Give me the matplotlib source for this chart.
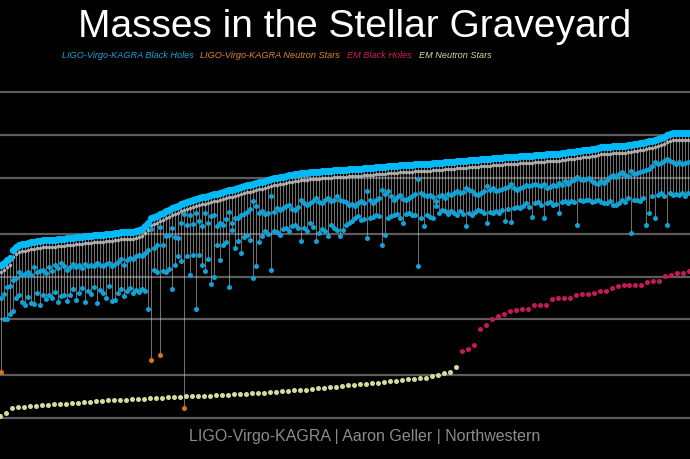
import matplotlib
matplotlib.use('Agg')
import matplotlib.pyplot as plt
import matplotlib.transforms as mtransforms
import numpy as np

# ---------------- data (solar masses) ----------------
lvk_final = [
    12.0, 12.5, 13.0, 13.6, 15.5, 16.2, 16.6, 16.9, 17.1, 17.3,
    17.5, 17.6, 17.7, 17.9, 18.0, 18.0, 18.1, 18.2, 18.2, 18.3,
    18.4, 18.5, 18.6, 18.7, 18.8, 18.9, 19.0, 19.1, 19.2, 19.3,
    19.4, 19.5, 19.6, 19.7, 19.8, 19.9, 20.0, 20.1, 20.2, 20.4,
    20.5, 20.6, 20.7, 20.7, 20.8, 20.9, 21.2, 21.8, 22.6, 23.8,
    25.8, 26.2, 26.9, 27.6, 28.3, 29.0, 29.6, 30.3, 31.0, 31.7,
    32.4, 33.1, 33.7, 34.3, 34.8, 35.3, 35.8, 36.3, 36.7, 37.2,
    37.6, 38.0, 38.5, 39.0, 39.4, 40.0, 40.6, 41.2, 41.8, 42.4,
    42.9, 43.5, 44.1, 44.6, 45.2, 45.8, 46.3, 46.9, 47.5, 48.1,
    48.7, 49.3, 49.8, 50.3, 50.8, 51.4, 51.9, 52.4, 52.9, 53.4,
    53.7, 54.0, 54.2, 54.5, 54.7, 54.9, 55.1, 55.3, 55.5, 55.8,
    56.0, 56.2, 56.4, 56.6, 56.8, 56.9, 57.1, 57.3, 57.5, 57.7,
    57.9, 58.1, 58.4, 58.6, 58.9, 59.1, 59.4, 59.6, 59.9, 60.1,
    60.4, 60.6, 60.9, 61.1, 61.3, 61.5, 61.6, 61.8, 62.0, 62.2,
    62.4, 62.5, 62.7, 62.9, 63.1, 63.4, 63.6, 63.9, 64.1, 64.4,
    64.6, 64.9, 65.1, 65.4, 65.7, 66.0, 66.3, 66.6, 66.8, 67.1,
    67.3, 67.6, 67.9, 68.1, 68.4, 68.6, 68.9, 69.1, 69.4, 69.6,
    69.9, 70.1, 70.4, 70.6, 70.9, 71.1, 71.4, 71.6, 71.9, 72.2,
    72.4, 72.7, 73.0, 73.2, 73.5, 73.8, 74.0, 74.5, 75.0, 75.5,
    75.9, 76.4, 76.9, 77.4, 77.9, 78.4, 78.9, 79.3, 80.3, 81.2,
    81.7, 82.1, 82.4, 82.7, 83.0, 83.3, 83.6, 84.0, 84.3, 84.9,
    85.6, 86.3, 87.0, 87.7, 88.5, 89.4, 90.4, 91.4, 92.5, 93.6,
    95.0, 97.5, 100.0, 102.5, 103.0, 103.3, 103.6, 103.8, 104.0, 104.2,
]

lvk_m1 = [
    7.1, 7.5, 8.4, 8.6, 9.5, 9.7, 10.7, 10.2, 10.5, 10.7, 10.3, 11.6, 10.7, 11.0,
    11.2, 10.6, 11.6, 11.0, 12.0, 11.4, 12.4, 11.9, 11.2, 11.6,
    12.2, 11.7, 12.1, 11.5, 12.3, 11.9, 12.1, 11.8, 12.4, 12.0,
    11.8, 12.2, 12.5, 11.9, 12.2, 12.6, 13.4, 12.0, 13.0, 13.6,
    13.3, 13.9, 14.1,
    14.0, 14.6, 15.5, 21.5, 15.9, 16.7, 22.5, 16.8, 19.4, 19.6,
    22.0, 19.0, 18.7, 24.0, 27.5, 23.1, 27.0, 23.5, 28.0, 24.5,
    22.7, 28.0, 24.0, 26.7, 27.0, 22.7, 23.8, 23.1, 25.5, 28.5, 23.8, 26.0, 25.8, 27.1,
    27.5, 28.5, 30.0, 34.0, 31.4, 28.0, 29.0, 27.5, 28.0, 36.9,
    28.5, 30.5, 29.4, 30.5, 31.4, 32.0, 30.0, 29.4, 31.0, 34.6,
    33.0, 32.0, 32.9, 34.0, 35.7, 33.5, 32.9, 35.0, 35.7, 34.0,
    35.0, 36.9,
    35.0, 34.0, 33.5, 31.9, 32.5, 31.4, 33.0, 34.0, 33.0, 40.0,
    35.0, 32.9, 34.5, 36.0, 40.6, 38.0, 40.0, 37.0, 34.6, 36.5,
    37.4, 35.5, 34.6, 36.0, 37.0, 38.0, 49.2, 38.7, 37.5, 36.9, 37.4,
    36.5, 34.0, 37.0, 37.4, 36.0, 38.0, 37.4, 38.7, 40.0, 38.7,
    39.5, 41.9, 41.0, 40.0, 38.5, 37.4, 39.0, 40.0, 43.3, 41.0,
    42.0, 40.0, 40.6, 41.5, 42.5, 43.0, 45.4, 42.0, 40.6, 42.5,
    43.0, 44.0, 43.5, 44.0, 45.4, 44.5, 43.3, 45.0, 41.9, 43.0,
    44.0, 43.3, 46.0, 44.0, 47.0, 45.0, 47.0, 48.0, 50.8, 49.0,
    48.0, 49.2, 50.0, 47.0, 46.0, 45.4, 47.5, 46.0, 48.0, 50.8,
    52.0, 50.8, 53.0, 55.1, 52.0, 51.6, 56.0, 53.0, 54.0, 55.0,
    56.0, 57.0, 58.0, 60.0, 64.7, 62.0, 63.0, 66.0, 68.0, 66.0,
    64.0, 62.7, 65.0, 62.7, 63.0, 64.0,
]

lvk_m2 = [
    2.1, 5.0, 5.0, 5.4, 5.7, 7.0, 7.4, 6.6, 6.3, 7.2, 6.5, 6.4, 7.6, 6.3,
    7.4, 6.9, 7.4, 7.0, 7.8, 6.6, 7.3, 7.4, 6.7, 7.4,
    8.1, 6.8, 7.7, 8.3, 6.6, 7.9, 7.5, 8.4, 6.5, 8.0,
    7.7, 7.0, 8.6, 6.7, 6.8, 7.7, 8.2, 7.3, 7.9, 8.3,
    7.6, 8.0, 7.8,
    8.2, 7.9, 5.9, 2.59, 11.2, 10.7, 2.8, 11.0, 10.7, 11.3,
    8.1, 12.1, 14.0, 12.8, 1.17, 14.0, 10.2, 14.2, 5.87, 14.2,
    12.1, 11.0, 13.2, 8.8, 9.85, 16.7, 13.0, 16.7, 17.5, 8.4, 21.3, 15.9, 17.8, 14.7,
    19.0, 19.7, 18.0, 9.7, 11.9, 17.6, 19.4, 21.0, 20.0, 11.2,
    21.0, 20.5, 19.7, 21.5, 22.0, 21.0, 22.7, 23.1, 22.0, 17.8,
    22.0, 21.0, 23.8, 22.5, 17.8, 20.3, 21.5, 21.0, 19.4, 23.0,
    22.0, 21.3,
    19.4, 21.3, 23.1, 23.8, 24.5, 26.0, 26.7, 25.0, 25.5, 18.7,
    25.8, 26.5, 27.1, 26.7, 16.7, 19.7, 26.0, 26.7, 27.1, 27.5,
    26.0, 23.8, 27.5, 28.0, 27.1, 27.1, 11.9, 26.0, 22.7, 27.1, 26.5,
    26.0, 31.4, 28.0, 29.4, 28.9, 27.5, 28.9, 28.0, 27.1, 28.9,
    27.5, 22.7, 28.0, 27.1, 28.5, 29.5, 28.9, 28.0, 23.8, 28.5,
    28.0, 29.0, 28.0, 29.5, 24.6, 30.0, 24.2, 30.4, 31.0, 30.4,
    31.5, 32.9, 31.0, 26.5, 32.9, 33.5, 32.0, 26.0, 32.9, 33.5,
    31.9, 32.5, 28.0, 33.5, 34.0, 33.0, 34.0, 33.5, 23.1, 34.6,
    34.0, 35.0, 34.6, 33.5, 34.0, 34.6, 33.5, 33.0, 32.9, 34.0,
    32.0, 31.9, 33.0, 34.5, 33.5, 35.7, 20.3, 34.6, 35.0, 34.0,
    36.0, 23.1, 28.0, 36.9, 25.8, 37.5, 38.7, 37.0, 23.1, 38.7,
    37.4, 38.0, 37.4, 38.7, 37.0, 39.0,
]

# events whose secondary component is a neutron star
lvk_ns_events = [0, 50, 53, 61]

em_ns = [
    1.03, 1.08, 1.17, 1.19, 1.20, 1.21, 1.22, 1.23, 1.24, 1.25,
    1.25, 1.26, 1.27, 1.28, 1.29, 1.30, 1.31, 1.32, 1.33, 1.34,
    1.34, 1.35, 1.36, 1.36, 1.37, 1.38, 1.38, 1.39, 1.40, 1.40,
    1.41, 1.42, 1.42, 1.43, 1.44, 1.44, 1.45, 1.45, 1.46, 1.47,
    1.47, 1.48, 1.49, 1.50, 1.51, 1.52, 1.53, 1.54, 1.56, 1.57,
    1.58, 1.59, 1.61, 1.62, 1.63, 1.65, 1.66, 1.68, 1.70, 1.71,
    1.73, 1.74, 1.76, 1.78, 1.80, 1.82, 1.84, 1.87, 1.88, 1.90,
    1.91, 1.93, 1.97, 2.00, 2.07, 2.13, 2.31,
]

em_bh = [
    2.99, 3.09, 3.29, 4.26, 4.54, 5.00, 5.25, 5.42, 5.69, 5.78,
    5.87, 5.87, 6.27, 6.27, 6.27, 6.90, 7.01, 7.01, 7.05, 7.36,
    7.47, 7.47, 7.59, 7.84, 7.84, 8.36, 8.63, 8.77, 8.77, 8.77,
    8.77, 9.22, 9.36, 9.36, 10.1, 10.3, 10.6, 10.6, 11.0,
]

grid_values = [1, 2, 5, 10, 20, 50, 100, 200]

title = "Masses in the Stellar Graveyard"
legend_labels = ["LIGO-Virgo-KAGRA Black Holes", "LIGO-Virgo-KAGRA Neutron Stars",
                 "EM Black Holes", "EM Neutron Stars"]
footer = "LIGO-Virgo-KAGRA | Aaron Geller | Northwestern"

# ---------------- styling ----------------
C_BH_FINAL = '#00baf7'
C_BH_COMP = '#0fa3d8'
C_NS = '#d9731c'
C_EMBH = '#c8185a'
C_EMNS = '#d3dc9c'
legend_colors = ['#19a3dc', '#e0862a', '#d21e61', '#d3dca0']

W, H = 690, 460
fig = plt.figure(figsize=(W / 100, H / 100), dpi=100, facecolor='black')
ax = fig.add_axes([0, 35 / H, 1, 350 / H])
ax.set_facecolor('black')
ax.set_yscale('log')
ax.set_ylim(0.907, 270.0)

n = len(lvk_final)
x = np.arange(n)
ax.set_xlim(-1 / 3, n - 1 + 2 / 3)

ax.set_yticks(grid_values)
ax.yaxis.set_minor_locator(matplotlib.ticker.NullLocator())
ax.grid(axis='y', color='#5c5c5c', lw=1.6, zorder=0)
ax.set_axisbelow(True)
ax.tick_params(left=False, bottom=False, labelleft=False, labelbottom=False)
for s in ax.spines.values():
    s.set_visible(False)

final = np.array(lvk_final)
m1 = np.array(lvk_m1)
m2 = np.array(lvk_m2)
lo = np.minimum(m1, m2)

ax.vlines(x, lo, final, colors='#cfcfcf', lw=0.7, alpha=0.55, zorder=2)

# arrow-head band just below each remnant
band_tr = mtransforms.offset_copy(ax.transData, fig=fig, x=0, y=-7, units='dots')
ax.scatter(x, final, s=7, color='#b8b8b8', lw=0, transform=band_tr, zorder=3, alpha=0.9)

is_ns = np.zeros(n, dtype=bool)
is_ns[lvk_ns_events] = True
ax.scatter(x, m1, s=13, color=C_BH_COMP, lw=0, zorder=4)
ax.scatter(x[~is_ns], m2[~is_ns], s=13, color=C_BH_COMP, lw=0, zorder=4)
ax.scatter(x[is_ns], m2[is_ns], s=13, color=C_NS, lw=0, zorder=4)
ax.scatter(x, final, s=27, color=C_BH_FINAL, lw=0, zorder=5)

# electromagnetic objects on a twin x scale
ax2 = ax.twiny()
ax2.set_facecolor('none')
n_em = len(em_ns) + len(em_bh)
ax2.set_xlim(-0.083, 115.1)
for s in ax2.spines.values():
    s.set_visible(False)
ax2.tick_params(top=False, labeltop=False)
j_ns = np.arange(len(em_ns))
j_bh = np.arange(len(em_ns), n_em)
ax2.scatter(j_ns, em_ns, s=13, color=C_EMNS, lw=0, zorder=4)
ax2.scatter(j_bh, em_bh, s=13, color=C_EMBH, lw=0, zorder=4)

# ---------------- texts ----------------
fig.text(355 / W, 1 - 37 / H, title, color='white', fontsize=28,
         family='Liberation Sans', ha='center', va='baseline')
legend_x = [62, 200, 347, 419]
for lx, lab, col in zip(legend_x, legend_labels, legend_colors):
    fig.text(lx / W, 1 - 56 / H, lab, color=col, fontsize=6.6, style='italic',
             family='Liberation Sans', ha='left', va='center')
fig.text(365 / W, 1 - 437 / H, footer, color='#8c8c8c', fontsize=11.5,
         family='Liberation Sans', ha='center', va='center')

fig.savefig('out.png', dpi=100, facecolor='black')
